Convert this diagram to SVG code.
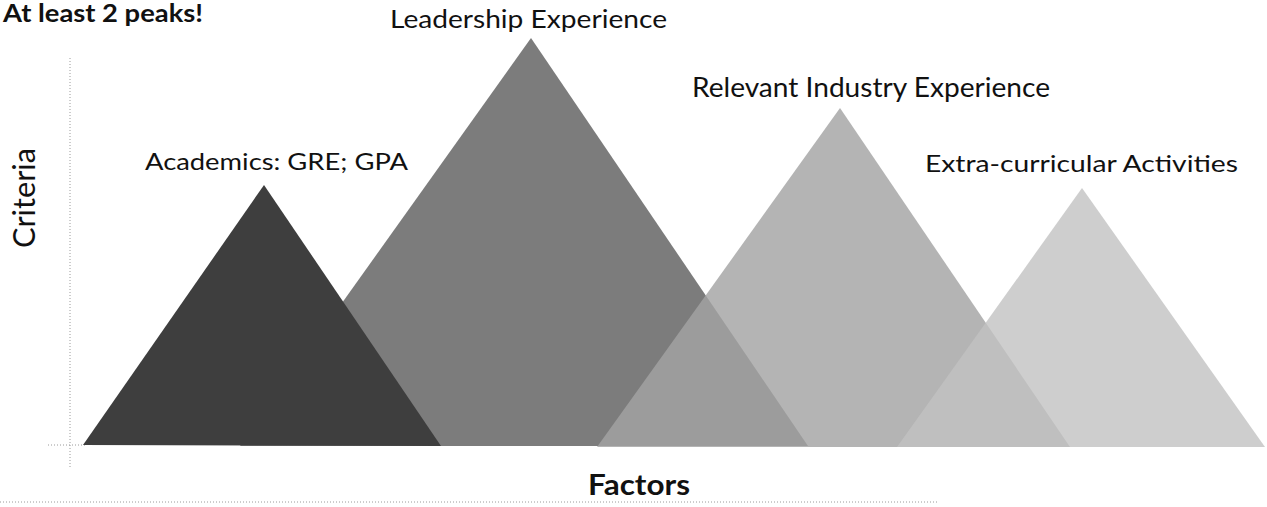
<svg xmlns="http://www.w3.org/2000/svg" width="1267" height="507" viewBox="0 0 1267 507">
<style>
.lbl{font-family:Lato,"Open Sans","Liberation Sans",sans-serif;fill:#111;}
.b{font-weight:bold;}
.ax{stroke:#9a9a9a;stroke-width:1;stroke-dasharray:1 2;fill:none;}
.tri{stroke:none;}
</style>
<rect width="1267" height="507" fill="#fff"/>
<g id="axes">
<line class="ax" x1="70" y1="58" x2="70" y2="468"/>
<line class="ax" x1="48" y1="445" x2="85" y2="445"/>
<line class="ax" x1="0" y1="502" x2="938" y2="502"/>
</g>
<g id="peak-leadership"><polygon class="tri" points="531,38 240,446 808,446" fill="#7c7c7c"/></g>
<g id="peak-industry"><polygon class="tri" points="840,108 597,447 1070,447" fill="#a3a3a3" fill-opacity="0.82"/></g>
<g id="peak-extra"><polygon class="tri" points="1082,188 897,447 1265,447" fill="#c2c2c2" fill-opacity="0.8"/></g>
<g id="peak-academics"><polygon class="tri" points="264,185 83,445 441,446" fill="#3e3e3e"/></g>
<g id="labels">
<text class="lbl b" x="3" y="22" font-size="24" textLength="200" lengthAdjust="spacingAndGlyphs">At least 2 peaks!</text>
<text class="lbl" x="390" y="28" font-size="25" textLength="277" lengthAdjust="spacingAndGlyphs">Leadership Experience</text>
<text class="lbl" x="692" y="97" font-size="26" textLength="358" lengthAdjust="spacingAndGlyphs">Relevant Industry Experience</text>
<text class="lbl" x="145" y="170" font-size="24" textLength="263" lengthAdjust="spacingAndGlyphs">Academics: GRE; GPA</text>
<text class="lbl" x="925" y="172" font-size="24" textLength="313" lengthAdjust="spacingAndGlyphs">Extra-curricular Activities</text>
<text class="lbl" transform="translate(35,248) rotate(-90)" x="0" y="0" font-size="31" textLength="100" lengthAdjust="spacingAndGlyphs">Criteria</text>
<text class="lbl b" x="588" y="495" font-size="28" textLength="102" lengthAdjust="spacingAndGlyphs">Factors</text>
</g>
</svg>
